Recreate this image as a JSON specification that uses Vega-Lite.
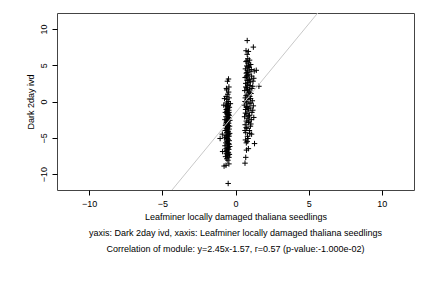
{
  "$schema": "https://vega.github.io/schema/vega-lite/v6.json",
  "autosize": "none",
  "width": 357,
  "height": 177,
  "padding": {"left": 57, "top": 13, "right": 18, "bottom": 98},
  "background": "white",
  "config": {
    "font": "Liberation Sans",
    "view": {"stroke": "#444", "strokeWidth": 1},
    "axis": {"grid": false, "domain": false, "tickColor": "#000", "tickSize": 5, "labelColor": "#000", "labelFontSize": 9, "titleFontSize": 9, "titleFontWeight": "normal", "titleColor": "#000", "labelFont": "Liberation Sans", "titleFont": "Liberation Sans"}
  },
  "title": {
    "text": "yaxis: Dark 2day ivd, xaxis: Leafminer locally damaged thaliana seedlings",
    "subtitle": "Correlation of module: y=2.45x-1.57, r=0.57 (p-value:-1.000e-02)",
    "orient": "bottom",
    "anchor": "middle",
    "fontSize": 9,
    "fontWeight": "normal",
    "subtitleFontSize": 9,
    "color": "#000",
    "subtitleColor": "#000",
    "font": "Liberation Sans",
    "subtitleFont": "Liberation Sans",
    "offset": 8,
    "subtitlePadding": 7
  },
  "datasets": {
    "pts": [
      {"x":-0.5,"y":-11.3},{"x":-1.05,"y":-5.1},{"x":-0.88,"y":-6.9},{"x":-0.78,"y":-8.9},{"x":-0.65,"y":-8.8},{"x":-0.45,"y":-8.6},{"x":-0.48,"y":3.1},{"x":-0.55,"y":2.8},{"x":-0.62,"y":1.8},{"x":-0.45,"y":2.0},{"x":-0.75,"y":0.4},{"x":-0.8,"y":-0.5},{"x":-0.35,"y":-0.3},{"x":-0.9,"y":-4.5},
      {"x":-0.52,"y":-8.1},{"x":-0.6,"y":-7.9},{"x":-0.45,"y":-7.7},{"x":-0.68,"y":-7.6},{"x":-0.55,"y":-7.4},{"x":-0.42,"y":-7.3},{"x":-0.62,"y":-7.2},{"x":-0.5,"y":-7.0},{"x":-0.7,"y":-6.9},{"x":-0.58,"y":-6.8},{"x":-0.46,"y":-6.6},{"x":-0.64,"y":-6.5},{"x":-0.53,"y":-6.3},{"x":-0.4,"y":-6.2},{"x":-0.72,"y":-6.1},{"x":-0.57,"y":-6.0},{"x":-0.48,"y":-5.8},{"x":-0.66,"y":-5.7},{"x":-0.55,"y":-5.6},{"x":-0.43,"y":-5.4},{"x":-0.61,"y":-5.3},{"x":-0.5,"y":-5.2},{"x":-0.74,"y":-5.0},{"x":-0.56,"y":-4.9},{"x":-0.45,"y":-4.8},{"x":-0.65,"y":-4.7},{"x":-0.52,"y":-4.5},{"x":-0.4,"y":-4.4},{"x":-0.6,"y":-4.3},{"x":-0.49,"y":-4.2},{"x":-0.7,"y":-4.0},{"x":-0.57,"y":-3.9},{"x":-0.44,"y":-3.8},{"x":-0.63,"y":-3.7},{"x":-0.53,"y":-3.5},{"x":-0.41,"y":-3.4},{"x":-0.68,"y":-3.3},{"x":-0.58,"y":-3.2},{"x":-0.47,"y":-3.0},{"x":-0.62,"y":-2.9},{"x":-0.51,"y":-2.8},{"x":-0.39,"y":-2.6},{"x":-0.72,"y":-2.5},{"x":-0.56,"y":-2.4},{"x":-0.45,"y":-2.3},{"x":-0.65,"y":-2.1},{"x":-0.54,"y":-2.0},{"x":-0.43,"y":-1.9},{"x":-0.6,"y":-1.7},{"x":-0.5,"y":-1.6},{"x":-0.69,"y":-1.5},{"x":-0.57,"y":-1.3},{"x":-0.46,"y":-1.2},{"x":-0.63,"y":-1.1},{"x":-0.52,"y":-0.9},{"x":-0.42,"y":-0.8},{"x":-0.66,"y":-0.6},{"x":-0.55,"y":-0.5},{"x":-0.47,"y":-0.3},{"x":-0.61,"y":-0.2},{"x":-0.5,"y":0.0},{"x":-0.58,"y":0.3},{"x":-0.44,"y":0.5},{"x":-0.64,"y":0.7},{"x":-0.53,"y":1.0},{"x":-0.47,"y":1.3},{"x":-0.6,"y":1.6},{"x":-0.5,"y":-6.4},{"x":-0.58,"y":-5.5},{"x":-0.47,"y":-4.6},{"x":-0.55,"y":-3.6},{"x":-0.62,"y":-2.7},{"x":-0.49,"y":-1.8},{"x":-0.56,"y":-1.0},{"x":-0.52,"y":-7.5},{"x":-0.6,"y":-6.7},{"x":-0.44,"y":-5.9},{"x":-0.57,"y":-5.1},{"x":-0.51,"y":-4.1},{"x":-0.66,"y":-3.1},{"x":-0.46,"y":-2.2},{"x":-0.59,"y":-1.4},{"x":-0.54,"y":-0.7},{"x":-0.48,"y":-7.1},{"x":-0.63,"y":-4.9},{"x":-0.5,"y":-3.3},{"x":-0.58,"y":-2.6},{"x":-0.45,"y":-1.5},
      {"x":0.8,"y":8.4},{"x":1.22,"y":7.5},{"x":0.72,"y":7.0},{"x":0.88,"y":6.9},{"x":0.8,"y":6.5},{"x":1.6,"y":2.1},{"x":1.42,"y":4.3},{"x":1.28,"y":4.2},{"x":1.3,"y":-5.8},{"x":0.65,"y":-8.5},{"x":0.7,"y":-7.7},{"x":0.75,"y":-6.7},{"x":0.88,"y":-6.5},{"x":1.1,"y":-4.5},{"x":1.25,"y":-2.2},{"x":1.05,"y":-3.1},{"x":0.65,"y":-4.0},{"x":0.68,"y":-5.3},{"x":0.8,"y":-5.5},
      {"x":0.82,"y":-4.8},{"x":0.7,"y":-4.3},{"x":0.95,"y":-4.0},{"x":0.78,"y":-3.7},{"x":1.02,"y":-3.4},{"x":0.66,"y":-3.2},{"x":0.88,"y":-2.9},{"x":0.74,"y":-2.7},{"x":1.08,"y":-2.5},{"x":0.84,"y":-2.3},{"x":0.62,"y":-2.1},{"x":0.96,"y":-1.9},{"x":0.77,"y":-1.7},{"x":1.12,"y":-1.5},{"x":0.86,"y":-1.3},{"x":0.69,"y":-1.1},{"x":1.0,"y":-0.9},{"x":0.8,"y":-0.7},{"x":0.6,"y":-0.5},{"x":0.93,"y":-0.3},{"x":0.74,"y":-0.1},{"x":1.15,"y":0.1},{"x":0.85,"y":0.3},{"x":0.67,"y":0.5},{"x":0.98,"y":0.7},{"x":0.79,"y":0.9},{"x":1.06,"y":1.1},{"x":0.88,"y":1.3},{"x":0.63,"y":1.5},{"x":0.95,"y":1.7},{"x":0.76,"y":1.9},{"x":1.18,"y":2.1},{"x":0.83,"y":2.3},{"x":0.7,"y":2.5},{"x":1.01,"y":2.7},{"x":0.8,"y":2.9},{"x":0.92,"y":3.1},{"x":0.66,"y":3.3},{"x":1.1,"y":3.5},{"x":0.86,"y":3.7},{"x":0.74,"y":3.9},{"x":0.99,"y":4.1},{"x":0.81,"y":4.3},{"x":0.68,"y":4.5},{"x":0.94,"y":4.7},{"x":0.77,"y":4.9},{"x":1.04,"y":5.1},{"x":0.87,"y":5.3},{"x":0.72,"y":5.5},{"x":0.96,"y":5.7},{"x":0.84,"y":5.9},{"x":0.9,"y":-2.0},{"x":0.76,"y":-0.8},{"x":1.03,"y":0.4},{"x":0.82,"y":1.6},{"x":0.7,"y":2.0},{"x":0.97,"y":3.0},{"x":0.79,"y":4.0},{"x":1.08,"y":4.4},{"x":0.9,"y":5.0},{"x":0.73,"y":-3.6},{"x":0.88,"y":-1.0},{"x":0.65,"y":0.0},{"x":1.12,"y":1.8},{"x":0.85,"y":2.6},{"x":0.75,"y":3.4},{"x":1.05,"y":-0.2},{"x":0.92,"y":-2.7},{"x":0.68,"y":-1.6},{"x":0.99,"y":2.2},{"x":0.8,"y":3.6},{"x":0.9,"y":4.8},{"x":0.78,"y":5.6},{"x":1.0,"y":1.2},{"x":0.72,"y":0.8},{"x":1.2,"y":2.8},{"x":1.25,"y":3.2},{"x":1.22,"y":-0.6},{"x":1.18,"y":-1.2},{"x":0.86,"y":-5.1},{"x":0.74,"y":-5.7},{"x":0.98,"y":-4.4}
    ],
    "fit": [
      {"x": -4.34, "y": -12.2},
      {"x": 5.62, "y": 12.2}
    ]
  },
  "layer": [
    {
      "data": {"name": "pts"},
      "mark": {"type": "point", "shape": "M-1,0L1,0M0,-1L0,1", "filled": false, "stroke": "#000", "strokeWidth": 1, "size": 30, "opacity": 1},
      "encoding": {
        "x": {"field": "x", "type": "quantitative", "scale": {"domain": [-12.2, 12.2], "nice": false, "zero": false},
              "axis": {"values": [-10, -5, 0, 5, 10], "title": "Leafminer locally damaged thaliana seedlings", "labelPadding": 4, "titlePadding": 4}},
        "y": {"field": "y", "type": "quantitative", "scale": {"domain": [-12.2, 12.2], "nice": false, "zero": false},
              "axis": {"values": [-10, -5, 0, 5, 10], "title": "Dark 2day ivd", "labelAngle": -90, "labelAlign": "center", "labelBaseline": "bottom", "labelPadding": 4, "titlePadding": 4}}
      }
    },
    {
      "data": {"name": "fit"},
      "mark": {"type": "line", "color": "#c8c8c8", "strokeWidth": 1, "clip": true},
      "encoding": {
        "x": {"field": "x", "type": "quantitative"},
        "y": {"field": "y", "type": "quantitative"}
      }
    }
  ]
}
